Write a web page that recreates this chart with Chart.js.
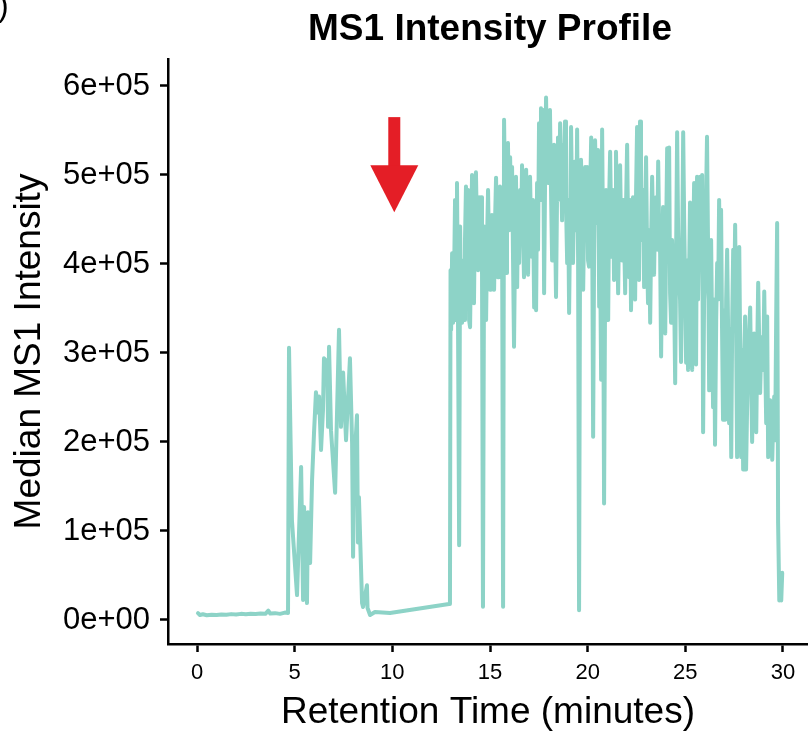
<!DOCTYPE html>
<html><head><meta charset="utf-8">
<script src="https://cdn.jsdelivr.net/npm/chart.js@4"></script>
<style>html,body{margin:0;padding:0;background:#fff;overflow:hidden}#wrap{width:808px;height:736px;position:relative}</style>
</head><body><div id="wrap"><canvas id="c" width="808" height="736"></canvas></div>
<script>
const chartTitle = 'MS1 Intensity Profile';
const xTitle = 'Retention Time (minutes)';
const yTitle = 'Median MS1 Intensity';
const panelMark = ')';
const xTickValues = [0, 5, 10, 15, 20, 25, 30];
const yTickValues = [0, 100000, 200000, 300000, 400000, 500000, 600000];
const yTickLabels = ['0e+00', '1e+05', '2e+05', '3e+05', '4e+05', '5e+05', '6e+05'];
const arrowTime = 10.1;
const arrowFrom = 565000;
const arrowTo = 458000;

const retentionTime = [
0.05,0.15,0.3,0.5,0.75,1.0,1.25,1.5,1.75,2.0,2.25,2.5,2.75,3.0,3.25,3.5,3.65,3.75,4.0,4.25,4.5,4.66,
4.71,4.86,5.12,5.33,5.43,5.48,5.63,5.68,5.79,5.89,5.99,6.09,6.20,6.25,6.35,6.45,6.50,6.66,6.71,6.76,6.86,7.07,7.27,7.37,7.48,7.63,7.83,7.94,7.99,8.04,8.19,8.24,8.29,8.45,8.50,8.70,8.73,8.86,9.11,9.88,12.90,
12.95,12.98,13.01,13.06,13.11,13.16,13.21,13.26,13.31,13.36,13.42,13.47,13.52,13.57,13.62,13.67,13.72,13.77,13.82,13.88,13.93,13.98,
14.03,14.08,14.13,14.18,14.23,14.28,14.34,14.39,14.44,14.49,14.54,14.59,14.64,14.70,14.75,14.80,14.85,14.90,14.95,
15.00,15.05,15.10,15.16,15.21,15.26,15.31,15.36,15.41,15.46,15.51,15.57,15.62,15.67,15.72,15.77,15.82,15.87,15.92,15.98,
16.03,16.08,16.13,16.18,16.23,16.28,16.33,16.39,16.44,16.49,16.54,16.59,16.64,16.69,16.74,16.79,16.85,16.90,16.95,
17.00,17.05,17.10,17.15,17.20,17.26,17.31,17.36,17.41,17.46,17.51,17.56,17.61,17.67,17.72,17.77,17.82,17.87,17.92,17.97,
18.02,18.07,18.13,18.18,18.23,18.28,18.33,18.38,18.43,18.48,18.54,18.59,18.64,18.69,18.74,18.79,18.84,18.89,18.95,
19.00,19.05,19.10,19.15,19.20,19.25,19.31,19.36,19.41,19.46,19.51,19.56,19.61,19.66,19.71,19.77,19.82,19.87,19.92,19.97,
20.02,20.07,20.12,20.18,20.23,20.28,20.33,20.38,20.43,20.48,20.53,20.59,20.63,20.69,20.74,20.79,20.84,20.89,20.94,
21.00,21.05,21.10,21.15,21.20,21.25,21.30,21.35,21.40,21.45,21.51,21.56,21.61,21.66,21.71,21.76,21.81,21.86,21.92,21.97,
22.02,22.07,22.12,22.17,22.22,22.27,22.32,22.38,22.43,22.48,22.53,22.58,22.63,22.68,22.73,22.79,22.84,22.89,22.94,22.99,
23.04,23.09,23.14,23.20,23.25,23.30,23.35,23.40,23.45,23.50,23.56,23.61,23.66,23.71,23.76,23.81,23.86,23.91,23.97,
24.02,24.07,24.12,24.17,24.22,24.27,24.32,24.37,24.43,24.48,24.53,24.58,24.63,24.68,24.73,24.78,24.84,24.89,24.94,24.99,
25.04,25.09,25.14,25.19,25.24,25.30,25.35,25.40,25.45,25.50,25.55,25.60,25.65,25.70,25.76,25.81,25.86,25.91,25.96,
26.01,26.06,26.11,26.17,26.22,26.27,26.32,26.37,26.42,26.47,26.52,26.58,26.63,26.68,26.73,26.78,26.83,26.88,26.93,26.99,
27.04,27.09,27.14,27.19,27.24,27.29,27.35,27.40,27.45,27.50,27.55,27.60,27.65,27.71,27.76,27.81,27.86,27.91,27.96,
28.01,28.06,28.11,28.16,28.22,28.27,28.32,28.37,28.42,28.47,28.52,28.58,28.63,28.68,28.73,28.78,28.83,28.88,28.93,28.99,
29.04,29.09,29.14,29.19,29.24,29.29,29.34,29.40,29.45,29.50,29.55,29.60,29.65,29.70,29.75,29.81,29.86,29.91,29.96
];

const medianIntensity = [
7800,5600,6400,5300,6000,5500,6200,5800,6600,6100,6900,6400,7100,6800,7300,7000,10500,7200,7700,6900,8300,7900,
306000,112000,28000,172000,22500,127000,19000,121000,64000,157000,210000,256000,233000,251000,191000,236000,294000,290000,217000,307000,213000,143000,326000,217000,278000,202000,294000,199000,71000,169000,230000,87000,138000,19000,14600,39000,13500,5600,9000,7900,18000,
18000,393000,326000,412000,334000,382000,472000,337000,491000,348000,84000,442000,360000,334000,404000,337000,427000,487000,360000,483000,337000,329000,
416000,500000,404000,356000,461000,503000,427000,393000,475000,438000,475000,404000,15000,442000,404000,337000,427000,483000,416000,
371000,438000,455000,393000,371000,449000,497000,427000,385000,461000,487000,416000,438000,15000,562000,472000,390000,528000,536000,438000,
520000,453000,509000,404000,307000,416000,498000,374000,472000,401000,483000,427000,511000,438000,385000,472000,506000,427000,388000,
461000,498000,438000,408000,472000,351000,438000,348000,491000,416000,558000,472000,575000,483000,573000,367000,494000,587000,517000,491000,
539000,573000,472000,404000,506000,534000,449000,363000,472000,542000,483000,558000,506000,449000,534000,483000,560000,469000,401000,
472000,345000,449000,554000,472000,401000,483000,515000,438000,551000,408000,11000,416000,517000,438000,371000,449000,509000,427000,509000,
404000,397000,472000,542000,449000,206000,416000,539000,483000,446000,528000,352000,427000,270000,551000,416000,131000,360000,483000,
416000,337000,472000,526000,449000,408000,483000,382000,449000,526000,438000,367000,449000,511000,438000,404000,472000,438000,367000,472000,
534000,438000,385000,472000,348000,427000,475000,404000,360000,483000,554000,449000,382000,560000,472000,427000,483000,374000,461000,520000,
416000,356000,438000,334000,427000,498000,438000,388000,461000,475000,416000,515000,438000,412000,296000,404000,464000,382000,322000,
438000,530000,416000,531000,367000,334000,427000,391000,360000,266000,416000,548000,438000,385000,360000,290000,416000,548000,449000,371000,
289000,404000,281000,382000,469000,360000,281000,416000,491000,360000,287000,498000,360000,427000,498000,404000,500000,211000,360000,
382000,472000,543000,404000,258000,371000,427000,326000,239000,360000,197000,337000,401000,360000,472000,382000,461000,326000,225000,348000,
225000,360000,416000,326000,221000,326000,183000,337000,416000,360000,444000,326000,183000,326000,419000,303000,183000,303000,169000,
292000,341000,169000,236000,303000,326000,351000,270000,200000,281000,322000,258000,211000,303000,379000,315000,255000,303000,318000,281000,
369000,292000,221000,341000,183000,225000,247000,202000,180000,225000,251000,202000,337000,446000,109000,22000,53000,22000,53000
];

const FONT = "'Liberation Sans', Arial, Helvetica, sans-serif";
const points = retentionTime.map((t, i) => ({x: t, y: medianIntensity[i]}));

const overlay = {
  id: 'overlay',
  afterDraw(chart) {
    const {ctx, chartArea, scales} = chart;
    ctx.save();
    ctx.fillStyle = '#000';
    ctx.font = 'bold 37px ' + FONT;
    ctx.textAlign = 'center';
    ctx.textBaseline = 'alphabetic';
    ctx.fillText(chartTitle, (chartArea.left + chartArea.right) / 2 + 2, 40);
    ctx.font = '32px ' + FONT;
    ctx.textAlign = 'left';
    ctx.fillText(panelMark, -2, 16);
    const ax = scales.x.getPixelForValue(arrowTime);
    const y0 = scales.y.getPixelForValue(arrowFrom);
    const y1 = scales.y.getPixelForValue(arrowTo);
    const headLen = 47, headHalf = 24;
    ctx.fillStyle = '#E41E26';
    ctx.fillRect(ax - 6, y0, 12, (y1 - headLen + 2) - y0);
    ctx.beginPath();
    ctx.moveTo(ax - headHalf, y1 - headLen);
    ctx.lineTo(ax + headHalf, y1 - headLen);
    ctx.lineTo(ax, y1);
    ctx.closePath();
    ctx.fill();
    ctx.restore();
  }
};

new Chart(document.getElementById('c'), {
  type: 'line',
  data: {
    datasets: [{
      data: points,
      borderColor: '#8DD3C7',
      borderWidth: 4,
      pointRadius: 0,
      tension: 0,
      borderJoinStyle: 'round',
      borderCapStyle: 'round',
      fill: false
    }]
  },
  options: {
    responsive: false,
    devicePixelRatio: 1,
    animation: false,
    layout: {padding: {top: 59, right: 0, left: 0, bottom: 0}},
    plugins: {legend: {display: false}, tooltip: {enabled: false}, title: {display: false}},
    scales: {
      x: {
        type: 'linear',
        min: -1.485,
        max: 31.28,
        afterFit(s) { s.height = 92; },
        afterBuildTicks(s) { s.ticks = xTickValues.map(v => ({value: v})); },
        ticks: {color: '#000', font: {family: FONT, size: 22}, padding: 8, maxRotation: 0, autoSkip: false},
        grid: {drawOnChartArea: false, drawTicks: true, tickLength: 8, tickWidth: 2.5, tickColor: '#000'},
        border: {display: true, color: '#000', width: 2.5},
        title: {display: true, text: xTitle, color: '#000', font: {family: FONT, size: 37}, padding: {top: 0, bottom: 1}}
      },
      y: {
        type: 'linear',
        min: -26970,
        max: 630300,
        afterFit(s) { s.width = 168; },
        afterBuildTicks(s) { s.ticks = yTickValues.map(v => ({value: v})); },
        ticks: {color: '#000', font: {family: FONT, size: 31}, padding: 10, autoSkip: false,
          callback: (v) => yTickLabels[yTickValues.indexOf(v)]},
        grid: {drawOnChartArea: false, drawTicks: true, tickLength: 8, tickWidth: 2.5, tickColor: '#000'},
        border: {display: true, color: '#000', width: 2.5},
        title: {display: true, text: yTitle, color: '#000', font: {family: FONT, size: 37}, padding: {top: 8, bottom: 0}}
      }
    }
  },
  plugins: [overlay]
});
</script></body></html>
